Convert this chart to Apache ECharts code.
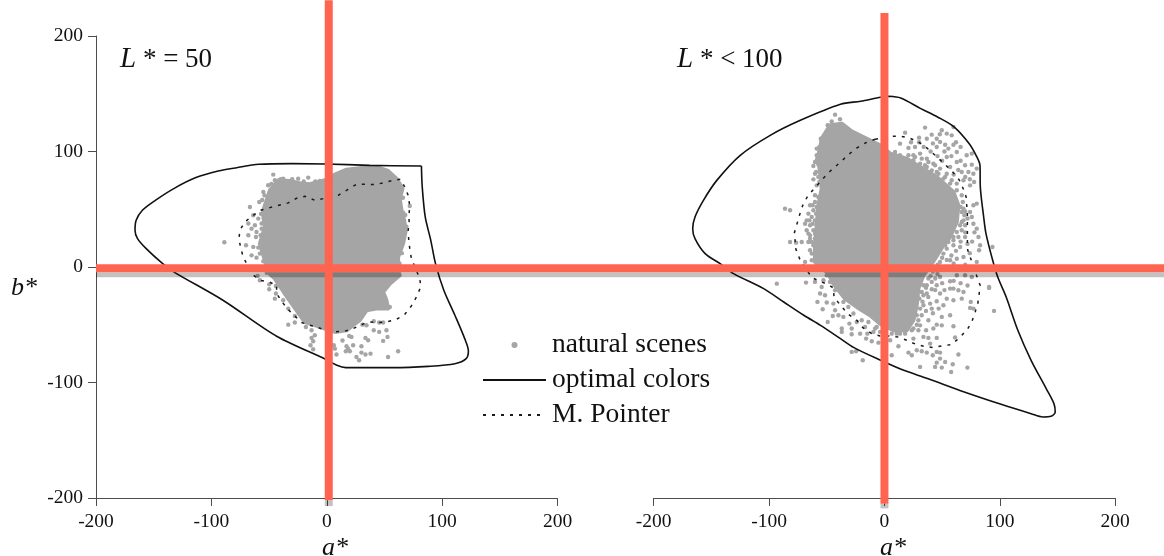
<!DOCTYPE html>
<html><head><meta charset="utf-8">
<style>html,body{margin:0;padding:0;background:#fff}#c{width:1164px;height:556px}</style>
<script src="https://cdn.jsdelivr.net/npm/echarts@6/dist/echarts.min.js"></script>
</head><body><div id="c"></div>
<script>
const optimalLeft = [[82,87.4],[37.2,88],[-1.2,89.2],[-30,89.5],[-58.9,88.9],[-78.1,86],[-94.1,83.1],[-113.4,77.4],[-132.6,67.9],[-148.6,57.7],[-159.8,49.1],[-165.2,40.4],[-166.2,31.8],[-164,24.6],[-156.5,15.9],[-142.2,2.9],[-132,-4.6],[-90,-28.8],[-43.5,-60],[-1,-79.9],[8.7,-85.1],[16.5,-87.1],[57,-87.1],[88,-86],[111,-83.7],[120.8,-79.3],[122.7,-72.7],[119.5,-62],[111,-41.8],[101.4,-20.2],[94.2,2.9],[90.1,23.1],[85.3,43.3],[82.7,69.3],[82,87.4]];
const pointerLeft = [[-57.4,49.1],[-49.3,51.4],[-33.4,55.5],[-26.2,59.5],[-19,61.2],[-10.4,57.8],[-3.1,59.2],[9.9,62.1],[18.5,67.3],[25.7,71.6],[34.4,71.6],[41.6,71.3],[48.8,72.8],[57.5,75.1],[63.8,76],[67.6,69.3],[70.5,62.1],[71.9,52.9],[71.3,46.2],[71.3,39],[70.5,31.8],[71,23.1],[71.9,15.9],[73.3,7.3],[80.6,-10],[81.4,-17.3],[77.7,-25.9],[73.3,-33.7],[67.6,-40.9],[60.4,-45.3],[51.7,-47.6],[44.5,-48.1],[37.3,-47.6],[30,-49.9],[22.8,-53.3],[15.6,-55.6],[7,-56.2],[-0.2,-54.8],[-21.9,-48.1],[-27.7,-42.4],[-33.4,-36.9],[-39.2,-29.7],[-43.5,-23],[-43.5,-15.8],[-49.9,-13],[-58,-11.5],[-65.2,-5.7],[-72.4,8.7],[-74.7,16.8],[-76.1,24.6],[-75.3,31.8],[-71,39],[-63.7,44.8],[-57.4,49.1]];
const blobLeft = [[-55.1,49.1],[-49.3,66.4],[-42.1,75.1],[-32,74.5],[-21.9,72.2],[-14.7,71.6],[-1.7,75.1],[5.5,79.4],[17.1,84.3],[31.5,86],[43,86.6],[53.1,83.2],[60.4,76.5],[65.6,67.9],[63.2,59.2],[64.7,49.1],[67,40.4],[68.4,31.8],[66.1,20.2],[61.8,8.7],[61.8,-2.8],[63.2,-7.2],[54.6,-14.4],[48.8,-21.6],[51.7,-28.8],[53.1,-36],[43,-36],[34.4,-37.5],[28.6,-46.1],[22.8,-50.4],[17.1,-54.8],[7,-56.2],[-1.7,-53.3],[-10.4,-50.4],[-19,-47.6],[-26.2,-37.5],[-33.4,-27.4],[-39.2,-18.7],[-45,-10],[-50.8,-4.8],[-53.6,5.8],[-58,20.2],[-53.6,34.7],[-55,43.4]];
const dotsLeft = [[-46.4,80],[-24.8,76.5],[-16.1,77.4],[-6,74.5],[-55,65],[-58.5,56.3],[-66.6,52],[-63.7,44.8],[-59.4,41.9],[-68,37.6],[-62.3,36.1],[-56.5,37.6],[-65.2,33.2],[-60.9,30.3],[-56.5,33.2],[-68,27.5],[-61.4,26],[-57.4,27.5],[-55,23.1],[-63.7,17.4],[-70,18.8],[-59.4,16.8],[-65.2,10.1],[-58,11.6],[-60.9,8.1],[-88.8,21.4],[66.1,47.1],[71.9,52.9],[-50.8,70.8],[-45,75.1],[-37.8,76.5],[-60,-7.7],[-58,-11.5],[-49.9,-15],[-44.1,-16.4],[-49.9,-19.3],[-44.1,-23],[-45,-27.4],[-36.3,-23],[-37.8,-28.8],[-33.4,-36],[-27.7,-42.4],[-33.4,-49.9],[-27.7,-48.1],[-18.1,-51.9],[-13.2,-54.8],[-10.4,-59.1],[-13.2,-61.4],[-11.8,-64.3],[-14.1,-67.8],[-11.8,-71.2],[6.1,-67.8],[7,-70.7],[8.4,-75.8],[13.6,-63.7],[17.1,-68.6],[18.5,-70.7],[16.5,-73],[20,-73],[22.8,-67.8],[19.4,-59.7],[21.4,-60.5],[25.7,-77.9],[28,-80.8],[30,-68.6],[30,-74.1],[33.5,-75.8],[37.9,-75],[33.5,-61.4],[35.8,-63.4],[40.7,-54.8],[45.4,-56.2],[51.7,-54.8],[52.6,-60.5],[48.8,-64],[53.1,-77.9],[61.8,-73],[40.7,-47],[45.4,-48.1],[48.8,-48.1],[30.9,-49.9],[34.4,-50.4],[40.2,-21.6],[43,-25.9],[54.6,-34.6],[31.5,-40.3],[-57,46],[-56,58],[-54,62],[-48,72],[-40,76],[-30,76],[-20,74],[-10,74],[-56,15],[-55,5],[-53,-2],[-52,-5],[62,72],[66,60],[68,45],[69,35],[65,12],[63,3]];
const optimalRight = [[4,147.8],[14.1,146.3],[31.5,137.1],[46,129.9],[60.5,121.2],[73.5,106.8],[79.4,96.7],[82.8,88.1],[83.1,69.3],[86,43.3],[88,28.9],[93.8,5.8],[98.2,-8.7],[105.5,-26],[115.6,-54.8],[127.1,-80.8],[140.2,-105.3],[146.9,-118.3],[148,-125.5],[144.5,-129.3],[137.3,-129.9],[127.1,-127],[101.1,-118.9],[69.2,-108.2],[37.3,-96.6],[15,-88.8],[-3.3,-80.8],[-26.4,-69.8],[-38.1,-62],[-55.4,-50.5],[-69.9,-41.8],[-87.3,-30.3],[-104.7,-18.7],[-130.8,-5.7],[-142.4,2.9],[-155.4,11.6],[-164.2,24.6],[-166.2,33.2],[-164.2,43.3],[-156.9,57.7],[-145.3,75],[-125,96.7],[-99,114],[-72.9,127],[-38.1,140.9],[-20.6,143.5],[-3.3,146.9],[4,147.8]];
const pointerRight = [[-8.1,110.6],[6.3,113.2],[13.5,113.4],[21.6,111.7],[29.4,108.3],[36.7,103.1],[43.9,96.7],[51.7,89.5],[59.2,82.3],[65,75.1],[68.5,67.3],[70.8,60.6],[71.3,53.4],[71.9,44.8],[71.9,37.5],[71.9,30.3],[71.9,21.7],[72.2,14.5],[74.8,7.2],[80,-7.7],[82.9,-15.8],[82,-23.9],[80.9,-31.7],[78.6,-38.9],[75.7,-47.6],[71.9,-53.9],[65,-61.4],[57.8,-67.2],[49.7,-68.3],[42.4,-69.8],[34.3,-68.6],[27.1,-66.9],[19.3,-63.4],[11.2,-60.5],[3.4,-59.7],[-3.8,-59.7],[-11,-57.7],[-18.8,-52.5],[-24,-46.1],[-31.3,-40.9],[-37.6,-33.7],[-43.7,-26.2],[-44.3,-18.1],[-49.2,-15],[-55.8,-12.4],[-63,-9.2],[-73.2,6.3],[-76.9,15.9],[-78,29.8],[-75.5,38.4],[-73.2,46.2],[-70.8,53.4],[-66.5,61.5],[-60.2,68.7],[-53.8,75.9],[-46.3,83.7],[-38.5,90.4],[-31.3,97.3],[-23.5,103.3],[-15.9,107.7],[-8.1,110.6]];
const blobRight = [[-54.4,111.1],[-47.1,122.7],[-37,124.1],[-28.4,117.5],[-18.3,112.6],[-3.8,105.4],[4.9,98.2],[19.3,93.8],[30.9,86.6],[45.3,77.9],[59.8,65],[64.1,53.4],[62.7,39],[56.9,26],[51.1,18.8],[43.9,7.2],[38.1,-1.4],[33.8,-7.2],[29.4,-18.7],[28,-33.1],[25.1,-46.1],[19.3,-54.8],[7.8,-54.8],[-3.8,-49],[-12.5,-41.8],[-24,-34.6],[-34.1,-27.4],[-44.3,-14.4],[-48.6,-5.7],[-60.2,4.4],[-60.2,18.8],[-58.7,36.1],[-57.3,53.4],[-54.4,67.9],[-56.4,86.6],[-58.7,92.4],[-55.8,102.5]];
const dotsRight = [[-42.8,131.9],[-45.7,126.1],[-38.5,127.9],[-49.2,122.7],[-55.2,111.1],[-56.4,103.9],[-58.7,102.5],[-60.2,90.9],[-61.6,87.5],[-57.3,89.5],[-60.2,80.8],[-61.6,75.9],[-56.4,73.6],[-60.2,56.3],[-64.5,53.4],[-61.6,49.1],[-65.9,46.2],[-63,43.3],[-59.3,46.2],[-68.8,37.5],[-64.5,36.1],[-67.4,31.8],[-61.6,31.8],[-64.5,27.4],[-60.2,28.9],[-63,21.7],[-71.7,21.7],[-81.8,21.7],[-76.6,21.1],[-86.2,50.5],[-81.8,49.1],[-64.5,14.5],[-63,5.8],[-68.8,4.4],[17.9,116.3],[35.2,120.7],[13.5,106.8],[20.8,103.1],[26.5,103.9],[36.7,111.1],[41,114.6],[45.3,111.1],[49.7,118.4],[54,115.5],[59.8,121.2],[58.3,114],[48.2,108.3],[52.6,105.9],[59.8,105.9],[45.3,103.9],[55.4,102.5],[62.7,99.6],[71.3,96.7],[75.7,98.2],[69.9,88.1],[75.7,88.6],[80,85.2],[67,82.3],[72.8,82.3],[77.1,80.8],[54,95.3],[62.7,90.9],[56.9,86.6],[48.2,85.2],[42.4,89.5],[36.7,93.8],[30.9,98.2],[25.1,96.7],[54,80.8],[68.5,75.1],[77.7,73.6],[74.2,70.7],[62.7,72.2],[80,54.9],[77.1,53.4],[74.2,47.6],[67,47.6],[75.7,43.3],[80,33.2],[81.5,26],[82.9,18.8],[82,14.5],[93.6,17.3],[77.1,37.5],[69.9,26],[65.6,17.3],[59.8,18.8],[54,15.9],[51.1,11.6],[68.5,8.7],[62.7,7.2],[56.9,5.8],[80,4.4],[48.2,4.4],[67,39],[-68,-13.5],[-60.2,-12.9],[-52.9,-11.5],[-55.8,-23],[-51.5,-24.5],[-58.1,-30.2],[-50,-30.8],[-53.5,-36.6],[-44.3,-31.7],[-42.8,-37.5],[-39.9,-41.8],[-44.8,-42.4],[-35.6,-43.2],[-49.2,-47.6],[-37,-53.3],[-37,-56.2],[-30.4,-49],[-28.4,-53.3],[-28.4,-58.2],[-15.9,-62],[-11,-64.3],[-5.2,-65.5],[-21.1,-57.7],[-14.8,-57.7],[-8.1,-53.3],[-28.4,-73.5],[-24.6,-73],[-18.8,-80.8],[4.9,-63.4],[12.1,-68.6],[6.3,-76.4],[20.8,-74.1],[23.7,-76.4],[28,-72.1],[32.3,-73],[36.7,-74.1],[41.9,-76.4],[45.3,-73.5],[48.2,-74.1],[48.2,-79.3],[52.6,-82.2],[45.3,-82.8],[43.9,-86.5],[49.7,-87.1],[30.9,-86.5],[59.2,-84.2],[57.8,-90.9],[71.9,-87.1],[64.1,-75.8],[25.1,-62],[33.8,-60.5],[38.1,-61.4],[45.3,-61.4],[39.6,-66.3],[29.4,-54.8],[36.1,-54.8],[42.4,-53.3],[49.7,-50.5],[59.8,-51.3],[45.3,-49.9],[61.2,-61.1],[49.7,-43.2],[56.9,-41.8],[38.1,-46.1],[32.3,-41.8],[41,-36],[33.8,-33.1],[39.6,-31.7],[45.3,-29.7],[54,-27.4],[51.1,-33.1],[59.8,-28.8],[59.8,-18.7],[64.1,-20.1],[68.5,-21.6],[67,-27.4],[74.8,-30.2],[74.2,-35.4],[77.1,-36],[90.7,-18.1],[95,-38],[48.2,-23],[41,-19.3],[45.3,-15.8],[56.9,-12.4],[62.7,-7.2],[69.9,-7.2],[75.7,-8.6],[36.7,-23],[41,-12.9],[48.2,-8.6],[56.9,-18.7],[33.8,-24.5],[30.9,-50.5],[23.7,-54.8],[17.9,-57.7],[10.7,-57.7],[-3.8,-56.2],[-93.3,-14.4],[90.7,-17.3],
[9.2,99.6],[13.5,96.7],[20.8,96.7],[26.5,95.3],[32.3,93.8],[38.1,90.9],[43.9,88.1],[23.7,89.5],[30.9,89.5],[36.7,86.6],[41,83.7],[46.8,80.8],[52.6,78],[58.3,75.1],[25.1,92.4],[35.2,88.1],[45.3,82.3],[51.1,76.5],[56.9,72.2],[62.7,66.4],[67,62.1],[67.9,56.3],[68.5,50.5],[69.3,44.8],[68.5,40.4],[65.6,36.1],[69.9,36.1],[62.7,30.3],[67,31.8],[59.8,26],[64.1,26],[55.4,21.7],[59.8,23.1],[52.6,18.8],[-56.4,99.6],[-58.7,96.7],[-59.3,82.3],[-57.3,78],[-58.7,70.7],[-60.2,62.1],[-57.3,60.6],[-62.2,53.4],[-58.7,52],[-55.8,54.9],[-65.1,40.4],[-60.2,40.4],[-57.3,41.9],[-67.4,40.4],[-62.2,37.5],[-58.7,36.1],[-65.9,28.9],[-60.2,24.6],[-64.5,24.6],[-61.6,18.8],[-63,11.6],[-58.7,13],[-65.9,21.7],[32.3,-21.6],[30.3,-27.4],[30.9,-36],[28,-41.8],[29.4,-46.1],[16.4,-54.8],[9.2,-54.8],[2,-53.3],[-6.7,-51.9],[-13.9,-47.6],[-19.7,-46.1],[-26.9,-40.3],[-31.3,-34.6],[-35.6,-30.2],[-42.8,-20.1],[-47.2,-12.9],[-50,-7.2],[-54.4,-17.3],[36.7,-15.8],[38.1,-10],[33.8,-15.8],[25.1,-53.3],[19.3,-51.9],[13.5,-57.7],[6.3,-57.7],[-0.9,-56.2],[-9.6,-56.2],[-16.8,-51.9],[-24,-47.6],
[66,52],[70,48],[72,42],[70,30],[66,22],[62,14],[58,10],[54,6],[50,8],[46,2],[42,-4],[46,-6],[52,-2],[58,0],[64,0],[70,2],[74,12],[76,22],[78,30],[72,20],[60,3],[40,-8],[44,-10],[36,-18],[33,-30],[38,-26],[44,-20],[50,-14],[60,-12],[66,-14],[72,-16],[52,-20],[42,-40],[36,-38],[47,-36],[28,-50],[64,84],[60,80],[70,78],[74,76],[50,92],[46,96],[40,100],[34,104],[30,108],[52,100],[58,96],[66,92],[62,108],[66,104],[42,107],[48,115],[30,112],[23,108]];
const redHorizontal = [[-200,-1.1],[725,-1.1]];
const greyHorizontal = [[-200,-6.8],[725,-6.8]];
const redVerticalLeft = [[1.7,231],[1.7,-202]];
const redVerticalRight = [[0,220],[0,-205]];
const greyStubLeft = [[1.7,-202],[1.7,-207]];
const greyStubRight = [[0,-205],[0,-209]];
const seriesNames = ['natural scenes','optimal colors','M. Pointer'];

const serif = '"Liberation Serif","Times New Roman",serif';
const dotColor = '#a5a5a5', redColor = '#ff6450';

function xAxis(gridIndex){return {gridIndex,type:'value',min:-200,max:200,interval:100,
  splitLine:{show:false},axisLine:{onZero:false,lineStyle:{color:'#4d4d4d',width:1}},
  axisTick:{length:8,lineStyle:{color:'#4d4d4d'}},
  axisLabel:{color:'#111',fontFamily:serif,fontSize:19.5,margin:14}};}
function yAxis(gridIndex,show){return {gridIndex,type:'value',min:-200,max:200,interval:100,show,
  splitLine:{show:false},axisLine:{onZero:false,lineStyle:{color:'#4d4d4d',width:1}},
  axisTick:{length:8,lineStyle:{color:'#4d4d4d'}},
  axisLabel:{color:'#111',fontFamily:serif,fontSize:19.5,margin:13}};}

function blob(points,i){return {type:'custom',coordinateSystem:'cartesian2d',xAxisIndex:i,yAxisIndex:i,z:2,silent:true,
  data:points,clip:false,
  renderItem:(params,api)=>{
    if(params.dataIndex!==0) return null;
    return {type:'polygon',shape:{points:points.map(p=>api.coord(p))},
      style:{fill:dotColor,stroke:dotColor,lineWidth:4,lineJoin:'round'}};
  }};}
function dots(points,i){return {name:seriesNames[0],type:'scatter',xAxisIndex:i,yAxisIndex:i,z:2,silent:true,
  data:points,symbol:'circle',symbolSize:4.4,itemStyle:{color:dotColor,opacity:1}};}
function curve(name,points,i,dash){return {name,type:'line',xAxisIndex:i,yAxisIndex:i,z:3,silent:true,data:points,
  symbol:'none',smooth:dash?false:0.3,clip:false,itemStyle:{opacity:0},
  lineStyle:dash?{color:'#1a1a1a',width:1.5,type:[3,6]}:{color:'#111',width:1.6}};}
function rule(points,i,color,width,z){return {type:'line',xAxisIndex:i,yAxisIndex:i,z,silent:true,data:points,clip:false,
  symbol:'none',lineStyle:{color,width,cap:'butt'},legendHoverLink:false};}
const titleStyle = {fontFamily:serif,fontSize:27,fontWeight:'normal',color:'#111',rich:{i:{fontFamily:serif,fontStyle:'italic',fontSize:29,color:'#111'}}};
const nameStyle = {fontFamily:serif,fontSize:26,fontStyle:'italic',fontWeight:'normal',color:'#111'};

const chart = echarts.init(document.getElementById('c'),null,{renderer:'canvas'});
chart.setOption({
  animation:false,backgroundColor:'#fff',
  grid:[{left:96,top:36,width:461.6,height:462},{left:653.7,top:36,width:461.5,height:462},{left:96,top:36,width:1068,height:462}],
  xAxis:[xAxis(0),xAxis(1),{gridIndex:2,type:'value',min:-200,max:725,show:false}],
  yAxis:[yAxis(0,true),yAxis(1,false),{gridIndex:2,type:'value',min:-200,max:200,show:false}],
  legend:{left:477,top:326,orient:'vertical',itemWidth:63,itemHeight:6,itemGap:7,selectedMode:false,data:seriesNames,
    textStyle:{fontFamily:serif,fontSize:27.5,color:'#111',padding:[0,0,0,1]}},
  title:[
    {left:115,top:40,text:'{i|L} * = 50',textStyle:titleStyle},
    {left:672,top:40,text:'{i|L} * < 100',textStyle:titleStyle},
    {left:6,top:270,text:'b*',textStyle:nameStyle},
    {left:317,top:530,text:'a*',textStyle:nameStyle},
    {left:875,top:530,text:'a*',textStyle:nameStyle}
  ],
  series:[
    blob(blobLeft,0),dots(dotsLeft,0),
    blob(blobRight,1),dots(dotsRight,1),
    curve(seriesNames[1],optimalLeft,0,false),curve(seriesNames[1],optimalRight,1,false),
    curve(seriesNames[2],pointerLeft,0,true),curve(seriesNames[2],pointerRight,1,true),
    rule(greyHorizontal,2,'rgba(0,0,0,0.24)',5,4),
    rule(greyStubLeft,0,'rgba(0,0,0,0.24)',8,4),
    rule(greyStubRight,1,'rgba(0,0,0,0.24)',8,4),
    rule(redHorizontal,2,redColor,8,5),
    rule(redVerticalLeft,0,redColor,8,5),
    rule(redVerticalRight,1,redColor,8,5)
  ]
});
</script></body></html>
